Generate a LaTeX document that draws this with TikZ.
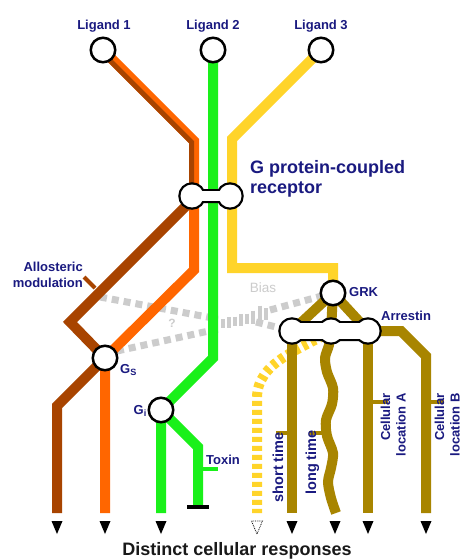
\documentclass[tikz,border=0pt]{standalone}
\usepackage{fontspec}
\setmainfont{Liberation Sans}
\usetikzlibrary{calc}
\pgfdeclarelayer{background}
\pgfsetlayers{background,main}

\definecolor{navy}{HTML}{1A1A80}
\definecolor{lorange}{HTML}{FF6600}
\definecolor{lbrown}{HTML}{A84400}
\definecolor{lgreen}{HTML}{1AF01A}
\definecolor{lyellow}{HTML}{FFD42A}
\definecolor{lgold}{HTML}{A88500}
\definecolor{lgray}{HTML}{CCCCCC}

\begin{document}
\begin{tikzpicture}[x=1pt,y=-1pt,
  route/.style={line width=10pt},
  stn/.style={circle,draw=black,line width=2.5pt,fill=white,minimum size=24.5pt,inner sep=0pt},
  lbl/.style={text=navy,font=\bfseries\fontsize{13}{15.5}\selectfont,inner sep=0pt},
  branchtick/.style={line width=4pt},
  graydash/.style={draw=lgray,line width=7pt,dash pattern=on 7pt off 5pt},
  outcome/.style={fill=black},
  blob/.style={draw=black,line width=4.5pt},
]
\useasboundingbox (0,0) rectangle (462,559);

% ---- stations ----
\node[stn] (lig1) at (103,50) {};
\node[stn] (lig2) at (213,50) {};
\node[stn] (lig3) at (321,50) {};
\node[stn] (gs) at (105,358) {};
\node[stn] (gi) at (161,410) {};
\node[stn] (grk) at (333,293) {};

% receptor (two lobes)
\coordinate (rcpL) at (192,196);
\coordinate (rcpR) at (230,196);
\draw[blob] (rcpL) circle[radius=11.5] (rcpR) circle[radius=11.5]
  ($(rcpL)+(0,-4.75)$) rectangle ($(rcpR)+(0,4.75)$);
\fill[white] (rcpL) circle[radius=11.5];
\fill[white] (rcpR) circle[radius=11.5];
\fill[white] ($(rcpL)+(0,-4.75)$) rectangle ($(rcpR)+(0,4.75)$);

% arrestin (three lobes)
\coordinate (arrL) at (292,331);
\coordinate (arrM) at (331,331);
\coordinate (arrR) at (368,331);
\draw[blob] (arrL) circle[radius=11.5] (arrM) circle[radius=11.5] (arrR) circle[radius=11.5]
  ($(arrL)+(0,-7.75)$) rectangle ($(arrR)+(0,7.75)$);
\fill[white] (arrL) circle[radius=11.5];
\fill[white] (arrM) circle[radius=11.5];
\fill[white] (arrR) circle[radius=11.5];
\fill[white] ($(arrL)+(0,-7.75)$) rectangle ($(arrR)+(0,7.75)$);

% toxin block
\draw[black,line width=4.5pt] (187,507) -- (209,507);

% ---- routes ----
\begin{pgfonlayer}{background}
  \fill[white] (0,0) rectangle (462,559);
  % bias band
  \draw[graydash] (100,297) -- (218,319);
  \draw[graydash] (117,351) -- (218,329);
  \foreach \x/\h in {223/9,229/11,235/9,241/12,247/10,253/13,260/20,266/12}
    \draw[lgray,line width=3.5pt] (\x,{324-(\x-222)*0.22-\h/2}) -- (\x,{324-(\x-222)*0.22+\h/2});
  \draw[graydash] (270,310) -- (grk.center);
  \draw[graydash] (256,322) -- (arrL);

  % ligand 3 continuation past arrestin
  \draw[lyellow,line width=10pt,dash pattern=on 5pt off 4pt]
    (arrM) .. controls (300,350) and (257,362) .. (257,398) -- (257,513);

  % ligand 1
  \draw[route,lorange] (lig1.center) -- (194,141) -- (194,270) -- (gs.center) -- (105,513);
  \draw[lbrown,line width=5pt] ($(lig1.center)+(-1.77,1.77)$) -- (191.5,142.1) -- (191.5,196);
  \draw[route,lbrown] ($(rcpL)+(0,4)$) -- (70,322) -- (gs.center) -- (57,406) -- (57,513);
  \draw[lbrown,branchtick] (95,288) -- (84,277);

  % ligand 2
  \draw[route,lgreen] (lig2.center) -- (213,358) -- (gi.center) -- (161,513);
  \draw[route,lgreen] (gi.center) -- (198,447) -- (198,506);
  \draw[lgreen,branchtick] (198,469) -- (218,469);

  % ligand 3
  \draw[route,lyellow] (lig3.center) -- (232,139) -- (232,268) -- (333,268) -- (grk.center);

  % GRK / arrestin
  \draw[route,lgold] (grk.center) -- (arrL);
  \draw[route,lgold] (grk.center) -- (arrM);
  \draw[route,lgold] (grk.center) -- (arrR);
  \draw[route,lgold] (arrL) -- (292,513);
  \draw[route,lgold] plot[smooth] coordinates {(331,331) (329,345) (325,358) (327,372) (333,388) (332,404) (326,420) (327,436) (333,453) (331,468) (328,482) (331,498) (336,513)};
  \draw[route,lgold] (arrR) -- (368,513);
  \draw[route,lgold] (arrR) -- (401,331) -- (426,356) -- (426,513);
  \draw[lgold,branchtick] (276,433) -- (292,433);
  \draw[lgold,branchtick] (309,433) -- (327,433);
  \draw[lgold,branchtick] (368,402) -- (388,402);
  \draw[lgold,branchtick] (426,402) -- (444,402);
\end{pgfonlayer}

% ---- response arrows ----
\foreach \x in {57,105,161,292,335,368,426}
  \fill[outcome] (\x-5.5,521) -- (\x+5.5,521) -- (\x,534) -- cycle;
\draw[black,line width=0.8pt,densely dotted] (251.5,521) -- (262.5,521) -- (257,534) -- cycle;

% ---- labels ----
\node[lbl,anchor=base] (t1) at (104,30) {Ligand 1};
\node[lbl,anchor=base] (t2) at (213,30) {Ligand 2};
\node[lbl,anchor=base] (t3) at (321,30) {Ligand 3};
\node[lbl,anchor=base west,align=left,font=\bfseries\fontsize{18}{20}\selectfont] (tr) at (250,193) {G protein-coupled\\receptor};
\node[lbl,anchor=north east,align=right] (tam) at (83,262) {Allosteric\\modulation};
\node[lbl,anchor=west] (tgs) at (120,370) {G\textsubscript{S}};
\node[lbl,anchor=east] (tgi) at (147,411) {G\textsubscript{i}};
\node[lbl,anchor=base west] (ttx) at (206,464) {Toxin};
\node[lbl,anchor=west] (tgrk) at (349,292) {GRK};
\node[lbl,anchor=west] (tarr) at (381,316) {Arrestin};
\node[text=lgray,font=\fontsize{13.5}{15}\selectfont,inner sep=0pt] (tbias) at (263,288) {Bias};
\node[text=lgray,font=\bfseries\fontsize{12}{14}\selectfont,inner sep=0pt] (tq) at (172,323) {?};
\node[lbl,rotate=90,anchor=base east,font=\bfseries\fontsize{14.5}{16}\selectfont] (tst) at (283,432) {short time};
\node[lbl,rotate=90,anchor=base east,font=\bfseries\fontsize{14.5}{16}\selectfont] (tlt) at (316,430) {long time};
\node[lbl,rotate=90,anchor=south east,align=right] (tca) at (406,393) {Cellular\\location A};
\node[lbl,rotate=90,anchor=south east,align=right] (tcb) at (460,393) {Cellular\\location B};
\node[anchor=base,inner sep=0pt,font=\bfseries\fontsize{18}{20}\selectfont,text=black!90] (tresp) at (237,555) {Distinct cellular responses};
\end{tikzpicture}
\end{document}
